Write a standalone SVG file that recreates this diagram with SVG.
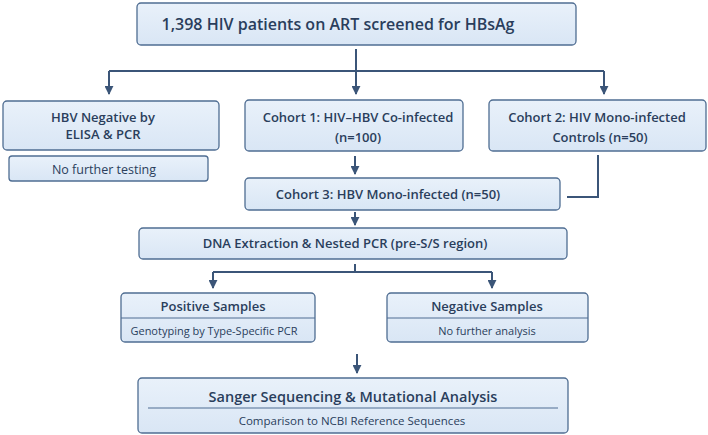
<svg xmlns="http://www.w3.org/2000/svg" width="708" height="435" viewBox="0 0 708 435">
<defs>
<linearGradient id="g" x1="0" y1="0" x2="0" y2="1">
<stop offset="0" stop-color="#e9f1fa"/>
<stop offset="1" stop-color="#d9e6f5"/>
</linearGradient>
<marker id="ah" viewBox="0 0 10 10" refX="9" refY="5" markerWidth="4.5" markerHeight="4.5" orient="auto" markerUnits="strokeWidth">
<path d="M0,0 L10,5 L0,10 z" fill="#3b5578"/>
</marker>
<style>
.box{fill:url(#g);stroke:#4f6d92;stroke-width:1.3}
.t{font-family:"Open Sans","Noto Sans",sans-serif;fill:#2a3e5c;text-anchor:middle;dominant-baseline:central}
.b{font-weight:600;font-size:13px}
.s{font-size:11.5px}
.c{fill:none;stroke:#3b5578;stroke-width:2}
.sep{stroke:#4f6d92;stroke-width:1}
</style>
</defs>
<g id="connectors">
<path class="c" d="M356,49 V71"/>
<path class="c" d="M109,71 H604"/>
<path class="c" d="M109,71 V94" marker-end="url(#ah)"/>
<path class="c" d="M356,71 V94" marker-end="url(#ah)"/>
<path class="c" d="M604,71 V94" marker-end="url(#ah)"/>
<path class="c" d="M355,156 V174" marker-end="url(#ah)"/>
<path class="c" d="M598,155 V197 H567"/>
<path class="c" d="M355,212 V225" marker-end="url(#ah)"/>
<path class="c" d="M355,264 V272"/>
<path class="c" d="M213,272 H492"/>
<path class="c" d="M213,272 V288" marker-end="url(#ah)"/>
<path class="c" d="M492,272 V288" marker-end="url(#ah)"/>
<path class="c" d="M357,354 V373" marker-end="url(#ah)"/>
</g>
<g id="n0">
<rect class="box" x="137" y="3" width="439" height="42" rx="4"/>
<text class="t" x="338" y="24" font-size="16" font-weight="600">1,398 HIV patients on ART screened for HBsAg</text>
</g>
<g id="n1">
<rect class="box" x="3" y="101" width="216" height="49" rx="4"/>
<text class="t b" x="103" y="117">HBV Negative by</text>
<text class="t b" x="103" y="134">ELISA &amp; PCR</text>
</g>
<g id="n1b">
<rect class="box" x="9" y="156" width="199" height="25" rx="3"/>
<text class="t" x="104" y="169" font-size="12.5">No further testing</text>
</g>
<g id="n2">
<rect class="box" x="245" y="100" width="218" height="51" rx="4"/>
<text class="t b" x="358" y="117">Cohort 1: HIV–HBV Co-infected</text>
<text class="t b" x="358" y="137">(n=100)</text>
</g>
<g id="n3">
<rect class="box" x="489" y="100" width="217" height="51" rx="4"/>
<text class="t b" x="597" y="117">Cohort 2: HIV Mono-infected</text>
<text class="t b" x="600" y="137">Controls (n=50)</text>
</g>
<g id="n4">
<rect class="box" x="245" y="178" width="315" height="32" rx="4"/>
<text class="t b" x="388" y="194">Cohort 3: HBV Mono-infected (n=50)</text>
</g>
<g id="n5">
<rect class="box" x="139" y="228" width="428" height="31" rx="4"/>
<text class="t b" x="345" y="243">DNA Extraction &amp; Nested PCR (pre-S/S region)</text>
</g>
<g id="n6">
<rect class="box" x="121" y="293" width="194" height="49" rx="4"/>
<line class="sep" x1="121" y1="318" x2="315" y2="318"/>
<text class="t b" x="213" y="306" font-size="13.5">Positive Samples</text>
<text class="t" x="214" y="330" font-size="11">Genotyping by Type-Specific PCR</text>
</g>
<g id="n7">
<rect class="box" x="387" y="293" width="201" height="49" rx="4"/>
<line class="sep" x1="387" y1="318" x2="588" y2="318"/>
<text class="t b" x="487" y="306" font-size="13.5">Negative Samples</text>
<text class="t" x="487" y="330" font-size="11">No further analysis</text>
</g>
<g id="n8">
<rect class="box" x="138" y="378" width="430" height="55" rx="4"/>
<line class="sep" x1="148" y1="408" x2="558" y2="408"/>
<text class="t" x="353" y="396" font-size="14.5" font-weight="600">Sanger Sequencing &amp; Mutational Analysis</text>
<text class="t" x="352" y="420" font-size="11.5">Comparison to NCBI Reference Sequences</text>
</g>
</svg>
